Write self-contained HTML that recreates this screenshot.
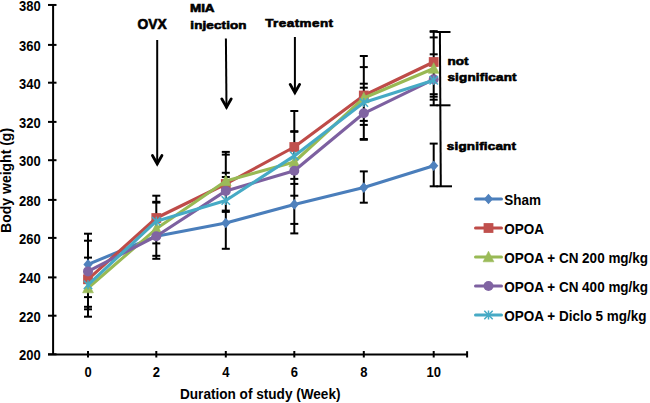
<!DOCTYPE html>
<html><head><meta charset="utf-8"><style>
html,body{margin:0;padding:0;background:#fff;}
svg{display:block;}
text{font-family:"Liberation Sans", sans-serif;font-weight:bold;fill:#000;stroke:#000;stroke-width:0;}
</style></head><body>
<svg width="650" height="403" viewBox="0 0 650 403">
<rect width="650" height="403" fill="#fff"/>
<line x1="88.0" y1="233.7" x2="88.0" y2="316.7" stroke="#000" stroke-width="2"/>
<line x1="84.0" y1="233.7" x2="92.0" y2="233.7" stroke="#000" stroke-width="2"/>
<line x1="84.0" y1="240.7" x2="92.0" y2="240.7" stroke="#000" stroke-width="2"/>
<line x1="84.0" y1="257.6" x2="92.0" y2="257.6" stroke="#000" stroke-width="2"/>
<line x1="84.0" y1="297.1" x2="92.0" y2="297.1" stroke="#000" stroke-width="2"/>
<line x1="84.0" y1="306.8" x2="92.0" y2="306.8" stroke="#000" stroke-width="2"/>
<line x1="84.0" y1="309.3" x2="92.0" y2="309.3" stroke="#000" stroke-width="2"/>
<line x1="84.0" y1="316.7" x2="92.0" y2="316.7" stroke="#000" stroke-width="2"/>
<line x1="156.3" y1="195.7" x2="156.3" y2="258.8" stroke="#000" stroke-width="2"/>
<line x1="152.3" y1="195.7" x2="160.3" y2="195.7" stroke="#000" stroke-width="2"/>
<line x1="152.3" y1="201.8" x2="160.3" y2="201.8" stroke="#000" stroke-width="2"/>
<line x1="152.3" y1="202.6" x2="160.3" y2="202.6" stroke="#000" stroke-width="2"/>
<line x1="152.3" y1="243.4" x2="160.3" y2="243.4" stroke="#000" stroke-width="2"/>
<line x1="152.3" y1="255.8" x2="160.3" y2="255.8" stroke="#000" stroke-width="2"/>
<line x1="152.3" y1="258.8" x2="160.3" y2="258.8" stroke="#000" stroke-width="2"/>
<line x1="225.8" y1="151.9" x2="225.8" y2="248.8" stroke="#000" stroke-width="2"/>
<line x1="221.8" y1="151.9" x2="229.8" y2="151.9" stroke="#000" stroke-width="2"/>
<line x1="221.8" y1="154.6" x2="229.8" y2="154.6" stroke="#000" stroke-width="2"/>
<line x1="221.8" y1="172.8" x2="229.8" y2="172.8" stroke="#000" stroke-width="2"/>
<line x1="221.8" y1="177.0" x2="229.8" y2="177.0" stroke="#000" stroke-width="2"/>
<line x1="221.8" y1="210.6" x2="229.8" y2="210.6" stroke="#000" stroke-width="2"/>
<line x1="221.8" y1="211.9" x2="229.8" y2="211.9" stroke="#000" stroke-width="2"/>
<line x1="221.8" y1="248.8" x2="229.8" y2="248.8" stroke="#000" stroke-width="2"/>
<line x1="294.3" y1="111.0" x2="294.3" y2="233.4" stroke="#000" stroke-width="2"/>
<line x1="290.3" y1="111.0" x2="298.3" y2="111.0" stroke="#000" stroke-width="2"/>
<line x1="290.3" y1="131.2" x2="298.3" y2="131.2" stroke="#000" stroke-width="2"/>
<line x1="290.3" y1="131.8" x2="298.3" y2="131.8" stroke="#000" stroke-width="2"/>
<line x1="290.3" y1="178.9" x2="298.3" y2="178.9" stroke="#000" stroke-width="2"/>
<line x1="290.3" y1="183.9" x2="298.3" y2="183.9" stroke="#000" stroke-width="2"/>
<line x1="290.3" y1="195.7" x2="298.3" y2="195.7" stroke="#000" stroke-width="2"/>
<line x1="290.3" y1="223.9" x2="298.3" y2="223.9" stroke="#000" stroke-width="2"/>
<line x1="290.3" y1="233.4" x2="298.3" y2="233.4" stroke="#000" stroke-width="2"/>
<line x1="363.8" y1="56.0" x2="363.8" y2="140.0" stroke="#000" stroke-width="2"/>
<line x1="363.8" y1="171.4" x2="363.8" y2="202.7" stroke="#000" stroke-width="2"/>
<line x1="359.8" y1="56.0" x2="367.8" y2="56.0" stroke="#000" stroke-width="2"/>
<line x1="359.8" y1="67.1" x2="367.8" y2="67.1" stroke="#000" stroke-width="2"/>
<line x1="359.8" y1="83.7" x2="367.8" y2="83.7" stroke="#000" stroke-width="2"/>
<line x1="359.8" y1="87.7" x2="367.8" y2="87.7" stroke="#000" stroke-width="2"/>
<line x1="359.8" y1="120.9" x2="367.8" y2="120.9" stroke="#000" stroke-width="2"/>
<line x1="359.8" y1="124.9" x2="367.8" y2="124.9" stroke="#000" stroke-width="2"/>
<line x1="359.8" y1="139.0" x2="367.8" y2="139.0" stroke="#000" stroke-width="2"/>
<line x1="359.8" y1="139.8" x2="367.8" y2="139.8" stroke="#000" stroke-width="2"/>
<line x1="359.8" y1="171.4" x2="367.8" y2="171.4" stroke="#000" stroke-width="2"/>
<line x1="359.8" y1="202.7" x2="367.8" y2="202.7" stroke="#000" stroke-width="2"/>
<line x1="433.7" y1="30.5" x2="433.7" y2="105.3" stroke="#000" stroke-width="2"/>
<line x1="433.7" y1="143.6" x2="433.7" y2="186.3" stroke="#000" stroke-width="2"/>
<line x1="429.7" y1="31.2" x2="437.7" y2="31.2" stroke="#000" stroke-width="2"/>
<line x1="429.7" y1="31.8" x2="437.7" y2="31.8" stroke="#000" stroke-width="2"/>
<line x1="429.7" y1="37.4" x2="437.7" y2="37.4" stroke="#000" stroke-width="2"/>
<line x1="429.7" y1="54.3" x2="437.7" y2="54.3" stroke="#000" stroke-width="2"/>
<line x1="429.7" y1="94.2" x2="437.7" y2="94.2" stroke="#000" stroke-width="2"/>
<line x1="429.7" y1="96.7" x2="437.7" y2="96.7" stroke="#000" stroke-width="2"/>
<line x1="429.7" y1="99.7" x2="437.7" y2="99.7" stroke="#000" stroke-width="2"/>
<line x1="429.7" y1="105.3" x2="437.7" y2="105.3" stroke="#000" stroke-width="2"/>
<line x1="429.7" y1="143.6" x2="437.7" y2="143.6" stroke="#000" stroke-width="2"/>
<line x1="429.7" y1="186.3" x2="437.7" y2="186.3" stroke="#000" stroke-width="2"/>
<polyline points="88.0,264.4 156.3,236.2 225.8,223.0 294.3,204.4 363.8,187.6 433.7,165.8" fill="none" stroke="#4A7EBB" stroke-width="3.1" stroke-linejoin="round" stroke-linecap="round"/>
<polygon points="88.0,259.09999999999997 92.6,264.4 88.0,269.7 83.4,264.4" fill="#4F81BD"/>
<polygon points="156.3,230.89999999999998 160.9,236.2 156.3,241.5 151.70000000000002,236.2" fill="#4F81BD"/>
<polygon points="225.8,217.7 230.4,223.0 225.8,228.3 221.20000000000002,223.0" fill="#4F81BD"/>
<polygon points="294.3,199.1 298.90000000000003,204.4 294.3,209.70000000000002 289.7,204.4" fill="#4F81BD"/>
<polygon points="363.8,182.29999999999998 368.40000000000003,187.6 363.8,192.9 359.2,187.6" fill="#4F81BD"/>
<polygon points="433.7,160.5 438.3,165.8 433.7,171.10000000000002 429.09999999999997,165.8" fill="#4F81BD"/>
<polyline points="88.0,279.3 156.3,218.0 225.8,184.0 294.3,147.0 363.8,95.5 433.7,62.0" fill="none" stroke="#BE4B48" stroke-width="3.1" stroke-linejoin="round" stroke-linecap="round"/>
<rect x="83.1" y="274.40000000000003" width="9.8" height="9.8" fill="#C0504D"/>
<rect x="151.4" y="213.1" width="9.8" height="9.8" fill="#C0504D"/>
<rect x="220.9" y="179.1" width="9.8" height="9.8" fill="#C0504D"/>
<rect x="289.40000000000003" y="142.1" width="9.8" height="9.8" fill="#C0504D"/>
<rect x="358.90000000000003" y="90.6" width="9.8" height="9.8" fill="#C0504D"/>
<rect x="428.8" y="57.1" width="9.8" height="9.8" fill="#C0504D"/>
<polyline points="88.0,288.0 156.3,228.8 225.8,181.0 294.3,162.0 363.8,98.0 433.7,68.5" fill="none" stroke="#98B954" stroke-width="3.1" stroke-linejoin="round" stroke-linecap="round"/>
<polygon points="88.0,282.2 93.4,292.8 82.6,292.8" fill="#9BBB59" stroke="#9BBB59" stroke-width="0.6" stroke-linejoin="round"/>
<polygon points="156.3,223.0 161.70000000000002,233.60000000000002 150.9,233.60000000000002" fill="#9BBB59" stroke="#9BBB59" stroke-width="0.6" stroke-linejoin="round"/>
<polygon points="225.8,175.2 231.20000000000002,185.8 220.4,185.8" fill="#9BBB59" stroke="#9BBB59" stroke-width="0.6" stroke-linejoin="round"/>
<polygon points="294.3,156.2 299.7,166.8 288.90000000000003,166.8" fill="#9BBB59" stroke="#9BBB59" stroke-width="0.6" stroke-linejoin="round"/>
<polygon points="363.8,92.2 369.2,102.8 358.40000000000003,102.8" fill="#9BBB59" stroke="#9BBB59" stroke-width="0.6" stroke-linejoin="round"/>
<polygon points="433.7,62.7 439.09999999999997,73.3 428.3,73.3" fill="#9BBB59" stroke="#9BBB59" stroke-width="0.6" stroke-linejoin="round"/>
<polyline points="88.0,271.4 156.3,236.2 225.8,190.9 294.3,170.8 363.8,113.3 433.7,79.3" fill="none" stroke="#7D60A0" stroke-width="3.1" stroke-linejoin="round" stroke-linecap="round"/>
<circle cx="88.0" cy="271.4" r="5.0" fill="#8064A2"/>
<circle cx="156.3" cy="236.2" r="5.0" fill="#8064A2"/>
<circle cx="225.8" cy="190.9" r="5.0" fill="#8064A2"/>
<circle cx="294.3" cy="170.8" r="5.0" fill="#8064A2"/>
<circle cx="363.8" cy="113.3" r="5.0" fill="#8064A2"/>
<circle cx="433.7" cy="79.3" r="5.0" fill="#8064A2"/>
<polyline points="88.0,284.8 156.3,221.2 225.8,200.5 294.3,155.9 363.8,102.5 433.7,80.3" fill="none" stroke="#46AAC5" stroke-width="3.1" stroke-linejoin="round" stroke-linecap="round"/>
<path d="M83.8,280.6 L92.2,289.0 M92.2,280.6 L83.8,289.0 M88.0,280.3 L88.0,289.3" stroke="#46AAC5" stroke-width="1.5" fill="none"/>
<path d="M152.10000000000002,217.0 L160.5,225.39999999999998 M160.5,217.0 L152.10000000000002,225.39999999999998 M156.3,216.7 L156.3,225.7" stroke="#46AAC5" stroke-width="1.5" fill="none"/>
<path d="M221.60000000000002,196.3 L230.0,204.7 M230.0,196.3 L221.60000000000002,204.7 M225.8,196.0 L225.8,205.0" stroke="#46AAC5" stroke-width="1.5" fill="none"/>
<path d="M290.1,151.70000000000002 L298.5,160.1 M298.5,151.70000000000002 L290.1,160.1 M294.3,151.4 L294.3,160.4" stroke="#46AAC5" stroke-width="1.5" fill="none"/>
<path d="M359.6,98.3 L368.0,106.7 M368.0,98.3 L359.6,106.7 M363.8,98.0 L363.8,107.0" stroke="#46AAC5" stroke-width="1.5" fill="none"/>
<path d="M429.5,76.1 L437.9,84.5 M437.9,76.1 L429.5,84.5 M433.7,75.8 L433.7,84.8" stroke="#46AAC5" stroke-width="1.5" fill="none"/>
<line x1="53.1" y1="4" x2="53.1" y2="355" stroke="#000" stroke-width="2"/>
<line x1="48" y1="354.4" x2="468" y2="354.4" stroke="#000" stroke-width="2"/>
<line x1="48" y1="4.96" x2="56.5" y2="4.96" stroke="#000" stroke-width="2"/>
<text transform="translate(40.7,10.96) scale(1.0,1.07)" font-size="13" text-anchor="end" >380</text>
<line x1="48" y1="44.90" x2="56.5" y2="44.90" stroke="#000" stroke-width="2"/>
<text transform="translate(40.7,50.90) scale(1.0,1.07)" font-size="13" text-anchor="end" >360</text>
<line x1="48" y1="82.70" x2="56.5" y2="82.70" stroke="#000" stroke-width="2"/>
<text transform="translate(40.7,88.70) scale(1.0,1.07)" font-size="13" text-anchor="end" >340</text>
<line x1="48" y1="121.90" x2="56.5" y2="121.90" stroke="#000" stroke-width="2"/>
<text transform="translate(40.7,127.90) scale(1.0,1.07)" font-size="13" text-anchor="end" >320</text>
<line x1="48" y1="160.20" x2="56.5" y2="160.20" stroke="#000" stroke-width="2"/>
<text transform="translate(40.7,166.20) scale(1.0,1.07)" font-size="13" text-anchor="end" >300</text>
<line x1="48" y1="199.90" x2="56.5" y2="199.90" stroke="#000" stroke-width="2"/>
<text transform="translate(40.7,205.90) scale(1.0,1.07)" font-size="13" text-anchor="end" >280</text>
<line x1="48" y1="237.90" x2="56.5" y2="237.90" stroke="#000" stroke-width="2"/>
<text transform="translate(40.7,243.90) scale(1.0,1.07)" font-size="13" text-anchor="end" >260</text>
<line x1="48" y1="277.40" x2="56.5" y2="277.40" stroke="#000" stroke-width="2"/>
<text transform="translate(40.7,283.40) scale(1.0,1.07)" font-size="13" text-anchor="end" >240</text>
<line x1="48" y1="315.70" x2="56.5" y2="315.70" stroke="#000" stroke-width="2"/>
<text transform="translate(40.7,321.70) scale(1.0,1.07)" font-size="13" text-anchor="end" >220</text>
<line x1="48" y1="354.30" x2="56.5" y2="354.30" stroke="#000" stroke-width="2"/>
<text transform="translate(40.7,360.30) scale(1.0,1.07)" font-size="13" text-anchor="end" >200</text>
<line x1="88.00" y1="351" x2="88.00" y2="357.5" stroke="#000" stroke-width="2"/>
<text transform="translate(88.10,376.8) scale(1.0,1.07)" font-size="13" text-anchor="middle" >0</text>
<line x1="156.30" y1="351" x2="156.30" y2="357.5" stroke="#000" stroke-width="2"/>
<text transform="translate(156.40,376.8) scale(1.0,1.07)" font-size="13" text-anchor="middle" >2</text>
<line x1="225.80" y1="351" x2="225.80" y2="357.5" stroke="#000" stroke-width="2"/>
<text transform="translate(225.90,376.8) scale(1.0,1.07)" font-size="13" text-anchor="middle" >4</text>
<line x1="294.30" y1="351" x2="294.30" y2="357.5" stroke="#000" stroke-width="2"/>
<text transform="translate(294.40,376.8) scale(1.0,1.07)" font-size="13" text-anchor="middle" >6</text>
<line x1="363.80" y1="351" x2="363.80" y2="357.5" stroke="#000" stroke-width="2"/>
<text transform="translate(363.90,376.8) scale(1.0,1.07)" font-size="13" text-anchor="middle" >8</text>
<line x1="433.70" y1="351" x2="433.70" y2="357.5" stroke="#000" stroke-width="2"/>
<text transform="translate(433.80,376.8) scale(1.0,1.07)" font-size="13" text-anchor="middle" >10</text>
<line x1="467.1" y1="351.2" x2="467.1" y2="357.5" stroke="#000" stroke-width="2"/>
<text transform="translate(180,399.2) scale(1.0,1.07)" font-size="13.5" text-anchor="start" textLength="160.50" lengthAdjust="spacingAndGlyphs" >Duration of study (Week)</text>
<text transform="translate(11.2,232.9) rotate(-90)" font-size="14" textLength="105" lengthAdjust="spacingAndGlyphs">Body weight (g)</text>
<line x1="475.5" y1="199" x2="501.5" y2="199" stroke="#4A7EBB" stroke-width="3" stroke-linecap="round"/>
<polygon points="488.5,193.7 493.1,199 488.5,204.3 483.9,199" fill="#4F81BD"/>
<text transform="translate(504.3,205) scale(1.0,1.07)" font-size="13.5" text-anchor="start" >Sham</text>
<line x1="475.5" y1="228" x2="501.5" y2="228" stroke="#BE4B48" stroke-width="3" stroke-linecap="round"/>
<rect x="483.6" y="223.1" width="9.8" height="9.8" fill="#C0504D"/>
<text transform="translate(504.3,234) scale(1.0,1.07)" font-size="13.5" text-anchor="start" >OPOA</text>
<line x1="475.5" y1="257" x2="501.5" y2="257" stroke="#98B954" stroke-width="3" stroke-linecap="round"/>
<polygon points="488.5,251.2 493.9,261.8 483.1,261.8" fill="#9BBB59" stroke="#9BBB59" stroke-width="0.6" stroke-linejoin="round"/>
<text transform="translate(504.3,263) scale(1.0,1.07)" font-size="13.5" text-anchor="start" >OPOA + CN 200 mg/kg</text>
<line x1="475.5" y1="286" x2="501.5" y2="286" stroke="#7D60A0" stroke-width="3" stroke-linecap="round"/>
<circle cx="488.5" cy="286" r="5.0" fill="#8064A2"/>
<text transform="translate(504.3,292) scale(1.0,1.07)" font-size="13.5" text-anchor="start" >OPOA + CN 400 mg/kg</text>
<line x1="475.5" y1="315" x2="501.5" y2="315" stroke="#46AAC5" stroke-width="3" stroke-linecap="round"/>
<path d="M484.3,310.8 L492.7,319.2 M492.7,310.8 L484.3,319.2 M488.5,310.5 L488.5,319.5" stroke="#46AAC5" stroke-width="1.5" fill="none"/>
<text transform="translate(504.3,321) scale(1.0,1.07)" font-size="13.5" text-anchor="start" >OPOA + Diclo 5 mg/kg</text>
<text transform="translate(137.6,29.0) scale(1.0,1.08)" font-size="14.0" text-anchor="start" textLength="29.20" lengthAdjust="spacingAndGlyphs" style="stroke-width:0.6px">OVX</text>
<text transform="translate(190,12.3) scale(1.14,1.0)" font-size="11.8" text-anchor="start" textLength="21.58" lengthAdjust="spacing" style="stroke-width:0.65px">MIA</text>
<text transform="translate(190.3,28.9) scale(1.14,1.0)" font-size="11.8" text-anchor="start" textLength="49.39" lengthAdjust="spacing" style="stroke-width:0.65px">injection</text>
<text transform="translate(265.2,27.2) scale(1.14,1.0)" font-size="11.8" text-anchor="start" textLength="59.56" lengthAdjust="spacing" style="stroke-width:0.65px">Treatment</text>
<text transform="translate(447.4,64.9) scale(1.14,1.0)" font-size="11.8" text-anchor="start" textLength="18.60" lengthAdjust="spacing" style="stroke-width:0.65px">not</text>
<text transform="translate(447.4,81.2) scale(1.14,1.0)" font-size="11.8" text-anchor="start" textLength="60.70" lengthAdjust="spacing" style="stroke-width:0.65px">significant</text>
<text transform="translate(446.8,150.4) scale(1.14,1.0)" font-size="11.8" text-anchor="start" textLength="60.70" lengthAdjust="spacing" style="stroke-width:0.65px">significant</text>
<line x1="157.2" y1="40" x2="157.2" y2="165" stroke="#000" stroke-width="2"/><polyline points="152.5,155.6 157.2,163.8 161.89999999999998,155.6" fill="none" stroke="#000" stroke-width="2.9" stroke-linecap="round" stroke-linejoin="miter"/>
<line x1="225.9" y1="38.4" x2="226.5" y2="108.3" stroke="#000" stroke-width="2"/><polyline points="221.8,98.89999999999999 226.5,107.1 231.2,98.89999999999999" fill="none" stroke="#000" stroke-width="2.9" stroke-linecap="round" stroke-linejoin="miter"/>
<line x1="294.9" y1="37" x2="294.9" y2="93.8" stroke="#000" stroke-width="2"/><polyline points="290.2,84.39999999999999 294.9,92.6 299.59999999999997,84.39999999999999" fill="none" stroke="#000" stroke-width="2.9" stroke-linecap="round" stroke-linejoin="miter"/>
<line x1="439.9" y1="32" x2="440.8" y2="186.3" stroke="#000" stroke-width="2"/>
<line x1="436.5" y1="32" x2="450.5" y2="32" stroke="#000" stroke-width="2"/>
<line x1="436.5" y1="105.3" x2="450.5" y2="105.3" stroke="#000" stroke-width="2"/>
<line x1="436.5" y1="186.3" x2="452" y2="186.3" stroke="#000" stroke-width="2"/>
</svg>
</body></html>
